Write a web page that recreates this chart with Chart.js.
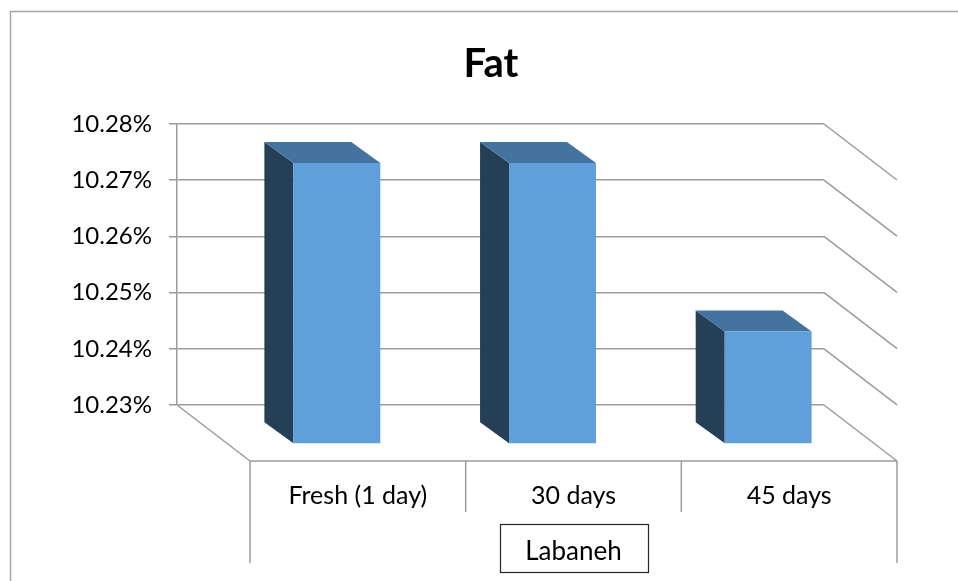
<!DOCTYPE html>
<html>
<head>
<meta charset="utf-8">
<title>Fat</title>
<script src="https://cdn.jsdelivr.net/npm/chart.js@4/dist/chart.umd.min.js"></script>
<style>
  html, body { margin: 0; padding: 0; background: #ffffff; }
  #wrap { width: 958px; height: 581px; }
</style>
</head>
<body>
<div id="wrap"><canvas id="chart" width="958" height="581"></canvas></div>
<script>
// Fat content of labaneh over storage time
const chartTitle = 'Fat';
const axisTitle = 'Labaneh';
const categories = ['Fresh (1 day)', '30 days', '45 days'];
const fatValues = [10.28, 10.28, 10.25];
const tickValues = [10.23, 10.24, 10.25, 10.26, 10.27, 10.28];

const FONT = 'Lato, "Open Sans", sans-serif';
const GRID = '#9b9b9b';

// depth of the floor and of the bars (pixels, from the back wall forward)
const DEPTH = { dx: 73, dy: 56 };
const BAR_BACK = { dx: 23, dy: 18 };
const BAR_FRONT = { dx: 52, dy: 39 };

const COL_FRONT = '#5f9fda';
const COL_TOP = '#44739f';
const COL_SIDE = '#243f56';

function line(ctx, x1, y1, x2, y2) {
  ctx.beginPath();
  ctx.moveTo(x1, y1);
  ctx.lineTo(x2, y2);
  ctx.stroke();
}

const threeD = {
  id: 'threeD',
  beforeDraw(chart) {
    const ctx = chart.ctx;
    ctx.save();
    ctx.fillStyle = '#ffffff';
    ctx.fillRect(0, 0, chart.width, chart.height);
    // outer frame
    ctx.strokeStyle = '#a6a6a6';
    ctx.lineWidth = 1.5;
    line(ctx, 10.5, 11, 10.5, chart.height);
    line(ctx, 10, 11.5, chart.width, 11.5);
    ctx.restore();
  },
  beforeDatasetsDraw(chart) {
    const ctx = chart.ctx;
    const { left, right, bottom } = chart.chartArea;
    const y = chart.scales.y;
    const x = chart.scales.x;
    ctx.save();
    ctx.strokeStyle = GRID;
    ctx.lineWidth = 1.5;
    // right side wall: gridlines continue toward the viewer
    y.ticks.forEach(t => {
      const py = y.getPixelForValue(t.value);
      line(ctx, right, py, right + DEPTH.dx, py + DEPTH.dy);
    });
    // floor
    line(ctx, left, bottom, left + DEPTH.dx, bottom + DEPTH.dy);
    line(ctx, left + DEPTH.dx, bottom + DEPTH.dy, right + DEPTH.dx, bottom + DEPTH.dy);
    // category table lines under the floor edge
    const fy = bottom + DEPTH.dy;
    const n = categories.length;
    for (let i = 0; i <= n; i++) {
      let bx;
      if (i === 0) bx = left;
      else if (i === n) bx = right;
      else bx = (x.getPixelForValue(i - 1) + x.getPixelForValue(i)) / 2;
      const len = (i === 0 || i === n) ? 102 : 51;
      line(ctx, bx + DEPTH.dx, fy, bx + DEPTH.dx, fy + len);
    }
    ctx.restore();
  },
  afterDatasetsDraw(chart) {
    const ctx = chart.ctx;
    const meta = chart.getDatasetMeta(0);
    ctx.save();
    meta.data.forEach(el => {
      const p = el.getProps(['x', 'y', 'base', 'width'], true);
      const l = p.x - p.width / 2;
      const r = p.x + p.width / 2;
      // side face
      ctx.fillStyle = COL_SIDE;
      ctx.beginPath();
      ctx.moveTo(l + BAR_BACK.dx, p.y + BAR_BACK.dy);
      ctx.lineTo(l + BAR_FRONT.dx, p.y + BAR_FRONT.dy);
      ctx.lineTo(l + BAR_FRONT.dx, p.base + BAR_FRONT.dy);
      ctx.lineTo(l + BAR_BACK.dx, p.base + BAR_BACK.dy);
      ctx.closePath();
      ctx.fill();
      // top face
      ctx.fillStyle = COL_TOP;
      ctx.beginPath();
      ctx.moveTo(l + BAR_BACK.dx, p.y + BAR_BACK.dy);
      ctx.lineTo(r + BAR_BACK.dx, p.y + BAR_BACK.dy);
      ctx.lineTo(r + BAR_FRONT.dx, p.y + BAR_FRONT.dy);
      ctx.lineTo(l + BAR_FRONT.dx, p.y + BAR_FRONT.dy);
      ctx.closePath();
      ctx.fill();
      // front face
      ctx.fillStyle = COL_FRONT;
      ctx.fillRect(l + BAR_FRONT.dx, p.y + BAR_FRONT.dy, r - l, p.base - p.y);
    });
    ctx.restore();
  },
  afterDraw(chart) {
    const ctx = chart.ctx;
    const { left, right, bottom } = chart.chartArea;
    const x = chart.scales.x;
    ctx.save();
    ctx.fillStyle = '#000000';
    // title
    ctx.font = 'bold 40px ' + FONT;
    ctx.textAlign = 'center';
    ctx.textBaseline = 'alphabetic';
    ctx.fillText(chartTitle, 491, 77);
    // category labels on the front edge
    ctx.font = '25px ' + FONT;
    ctx.textBaseline = 'middle';
    categories.forEach((c, i) => {
      ctx.fillText(c, x.getPixelForValue(i) + DEPTH.dx, bottom + DEPTH.dy + 35);
    });
    // axis title box
    const cx = (left + right) / 2 + DEPTH.dx;
    const bw = 148, bh = 48, by = bottom + DEPTH.dy + 63;
    ctx.strokeStyle = '#262626';
    ctx.lineWidth = 1.2;
    ctx.strokeRect(Math.round(cx - bw / 2) + 0.5, by + 0.5, bw, bh);
    ctx.font = '26px ' + FONT;
    ctx.fillText(axisTitle, cx, by + bh / 2 + 4);
    ctx.restore();
  }
};

new Chart(document.getElementById('chart'), {
  type: 'bar',
  data: {
    labels: categories,
    datasets: [{
      label: chartTitle,
      data: fatValues,
      base: tickValues[0],
      backgroundColor: 'rgba(0,0,0,0)',
      borderWidth: 0,
      barPercentage: 0.403,
      categoryPercentage: 1
    }]
  },
  options: {
    responsive: false,
    devicePixelRatio: 1,
    animation: false,
    layout: { padding: { top: 124, right: 134, bottom: 176, left: 0 } },
    plugins: { legend: { display: false }, title: { display: false }, tooltip: { enabled: false } },
    scales: {
      x: { display: false },
      y: {
        min: tickValues[0],
        max: tickValues[tickValues.length - 1],
        afterFit(s) { s.width = 177; },
        afterBuildTicks(s) { s.ticks = tickValues.map(v => ({ value: v })); },
        grid: { color: GRID, lineWidth: 1.5, tickLength: 8 },
        border: { display: true, color: GRID, width: 1.5 },
        ticks: {
          padding: 17,
          color: '#000000',
          font: { family: FONT, size: 24 },
          callback: v => Number(v).toFixed(2) + '%'
        }
      }
    }
  },
  plugins: [threeD]
});
</script>
</body>
</html>
